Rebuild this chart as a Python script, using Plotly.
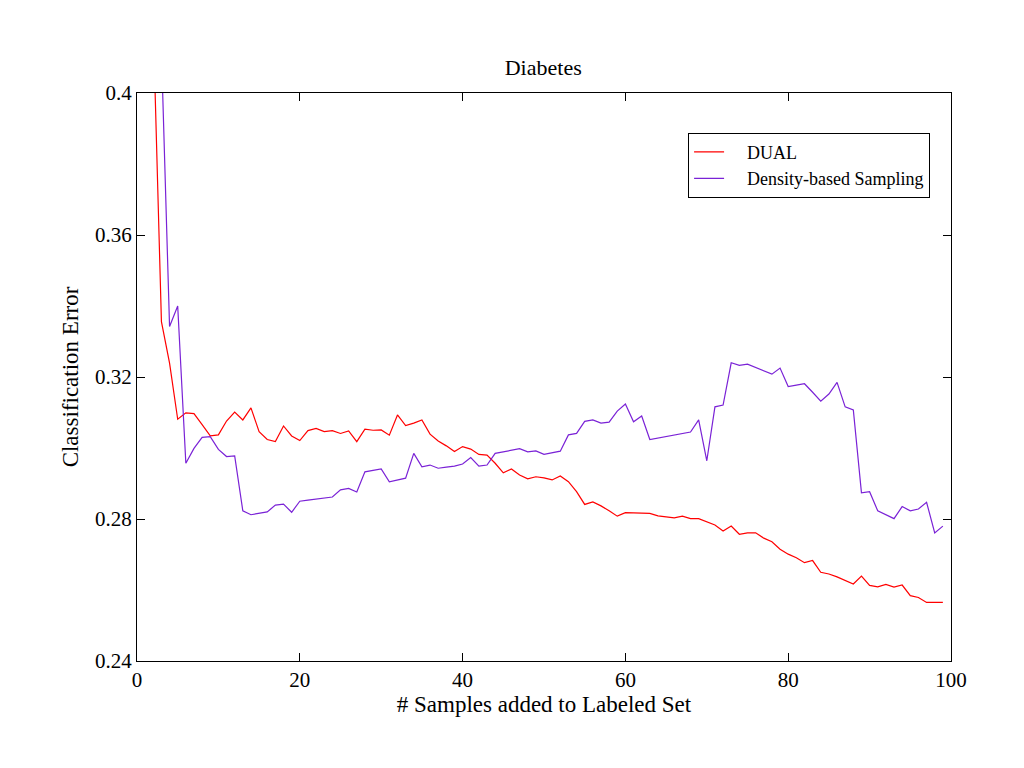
import plotly.graph_objects as go

x_vals = list(range(2, 100))

dual = [0.419, 0.3356, 0.3239, 0.3081, 0.3099, 0.3097, 0.3066, 0.3034, 0.3037, 0.3076,
        0.3101, 0.3079, 0.3113, 0.3046, 0.3024, 0.3018, 0.3062, 0.3034, 0.3021, 0.3049,
        0.3055, 0.3046, 0.3049, 0.3041, 0.3048, 0.3018, 0.3053, 0.3050, 0.3051, 0.3036,
        0.3093, 0.3063, 0.3070, 0.3079, 0.3039, 0.3020, 0.3006, 0.2990, 0.3004, 0.2997,
        0.2982, 0.2980, 0.2957, 0.2930, 0.2941, 0.2924, 0.2913, 0.2919, 0.2916, 0.2910,
        0.2921, 0.2905, 0.2877, 0.2841, 0.2848, 0.2837, 0.2823, 0.2808, 0.2818, 0.2818,
        0.2816, 0.2816, 0.2809, 0.2806, 0.2803, 0.2808, 0.2801, 0.2801, 0.2791, 0.2783,
        0.2766, 0.2780, 0.2757, 0.2761, 0.2761, 0.2746, 0.2736, 0.2715, 0.2701, 0.2691,
        0.2677, 0.2683, 0.2650, 0.2645, 0.2637, 0.2628, 0.2617, 0.2639, 0.2613, 0.2609,
        0.2616, 0.2608, 0.2614, 0.2584, 0.2579, 0.2565, 0.2565, 0.2565]

density = [0.440, 0.412, 0.3342, 0.3400, 0.2957, 0.2999, 0.3030, 0.3032, 0.2996, 0.2976,
           0.2978, 0.2823, 0.2812, 0.2816, 0.2820, 0.2839, 0.2842, 0.2819, 0.2850, 0.2853,
           0.2856, 0.2859, 0.2862, 0.2882, 0.2886, 0.2876, 0.2933, 0.2937, 0.2941, 0.2905,
           0.2910, 0.2915, 0.2985, 0.2947, 0.2952, 0.2943, 0.2946, 0.2949, 0.2955, 0.2973,
           0.2949, 0.2952, 0.2985, 0.2989, 0.2994, 0.2998, 0.2989, 0.2992, 0.2982, 0.2986,
           0.2991, 0.3037, 0.3041, 0.3075, 0.3079, 0.3070, 0.3073, 0.3104, 0.3124, 0.3074,
           0.3090, 0.3024, 0.3028, 0.3033, 0.3037, 0.3041, 0.3045, 0.3079, 0.2964, 0.3116,
           0.3121, 0.3240, 0.3233, 0.3236, 0.3227, 0.3218, 0.3208, 0.3225, 0.3173, 0.3177,
           0.3181, 0.3157, 0.3132, 0.3152, 0.3185, 0.3116, 0.3107, 0.2874, 0.2877, 0.2823,
           0.2811, 0.2801, 0.2835, 0.2823, 0.2828, 0.2847, 0.2761, 0.2780]

series_names = ["DUAL", "Density-based Sampling"]
x_ticks = [0, 20, 40, 60, 80, 100]
y_ticks = [0.24, 0.28, 0.32, 0.36, 0.4]
y_tick_text = ["0.24", "0.28", "0.32", "0.36", "0.4"]

FONT = "Liberation Serif"
PAD = "\u00a0" * 4

fig = go.Figure()
fig.add_trace(go.Scatter(x=x_vals, y=dual, mode="lines", name=PAD + series_names[0],
                         line=dict(color="#FF0000", width=1.2)))
fig.add_trace(go.Scatter(x=x_vals, y=density, mode="lines", name=PAD + series_names[1],
                         line=dict(color="#7A22D6", width=1.2)))

axis_common = dict(showline=True, linecolor="black", linewidth=1.2, mirror="allticks",
                   ticks="inside", ticklen=8, tickcolor="black", tickwidth=1,
                   showgrid=False, zeroline=False,
                   tickfont=dict(family=FONT, size=21, color="black"))

fig.update_layout(
    width=1024, height=768,
    paper_bgcolor="white", plot_bgcolor="white",
    margin=dict(l=137, r=73, t=93, b=107),
    title=dict(text="Diabetes", x=0.5305, xanchor="center", y=0.912, yanchor="middle",
               font=dict(family=FONT, size=22, color="black")),
    xaxis=dict(range=[0, 100], tickvals=x_ticks,
               title=dict(text="# Samples added to Labeled Set", standoff=3,
                          font=dict(family=FONT, size=23, color="black")),
               **axis_common),
    yaxis=dict(range=[0.24, 0.4], tickvals=y_ticks, ticktext=y_tick_text,
               title=dict(text="Classification Error", standoff=9,
                          font=dict(family=FONT, size=23, color="black")),
               **axis_common),
    legend=dict(x=0.677, y=0.93, xanchor="left", yanchor="top",
                bordercolor="black", borderwidth=1, bgcolor="white",
                font=dict(family=FONT, size=18, color="black"),
                tracegroupgap=0, itemwidth=30),
    showlegend=True,
)

fig.write_html("out.html")
